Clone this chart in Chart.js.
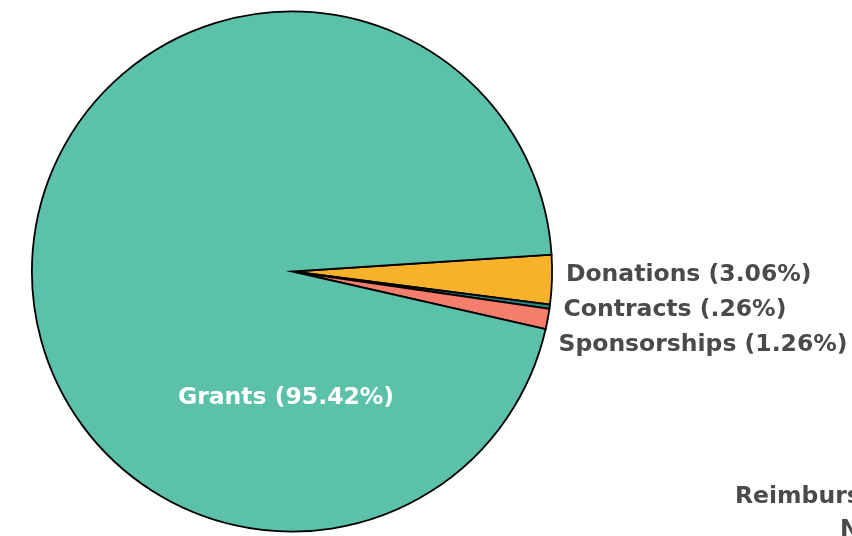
<!DOCTYPE html>
<html>
<head>
<meta charset="utf-8">
<script src="https://cdn.jsdelivr.net/npm/chart.js"></script>
<style>
    html, body { margin: 0; padding: 0; background: #ffffff; }
    #wrap { width: 852px; height: 536px; position: relative; }
</style>
</head>
<body>
<div id="wrap">
    <canvas id="fuentes-chart"></canvas>
</div>

<script>
    // Datos del grafico
    var categorias = ['Donations', 'Contracts', 'Sponsorships', 'Grants'];
    var porcentajes = [3.06, 0.26, 1.26, 95.42];
    var etiquetas = ['Donations (3.06%)', 'Contracts (.26%)', 'Sponsorships (1.26%)', 'Grants (95.42%)'];
    var colores = ['#F8B229', '#1F8A80', '#F47D6B', '#5BC1A9'];
    var notaExtra = ['Reimbursements', 'N/A'];

    var fuente = 'bold 23.5px "DejaVu Sans", sans-serif';

    // Plugin para dibujar las etiquetas
    var etiquetasPlugin = {
        id: 'etiquetas',
        afterDraw: function (chart) {
            var ctx = chart.ctx;
            var arcos = chart.getDatasetMeta(0).data;
            ctx.save();
            ctx.font = fuente;
            ctx.textBaseline = 'middle';

            var ultimaY = -Infinity;
            for (var i = 0; i < 3; i++) {
                var a = arcos[i];
                var medio = (a.startAngle + a.endAngle) / 2;
                var x = a.x + (a.outerRadius + 14) * Math.cos(medio) - (i === 2 ? 3 : 0);
                var y = a.y + a.outerRadius * Math.sin(medio) - 5;
                if (y < ultimaY + 35) y = ultimaY + 35;
                ultimaY = y;
                ctx.fillStyle = '#4a4a4a';
                ctx.textAlign = 'left';
                ctx.fillText(etiquetas[i], x, y);
            }

            // Etiqueta de Grants dentro del circulo
            var g = arcos[3];
            ctx.fillStyle = '#ffffff';
            ctx.textAlign = 'center';
            ctx.fillText(etiquetas[3], g.x - 6, g.y + g.outerRadius * 0.485);

            // Nota cortada en la esquina
            ctx.fillStyle = '#4a4a4a';
            ctx.textAlign = 'left';
            ctx.fillText(notaExtra[0], 735, 497);
            ctx.fillText(notaExtra[1], 840, 530);
            ctx.restore();
        }
    };

    var ctx = document.getElementById('fuentes-chart').getContext('2d');
    var fuentesChart = new Chart(ctx, {
        type: 'pie',
        data: {
            labels: categorias,
            datasets: [{
                data: porcentajes,
                backgroundColor: colores,
                borderColor: '#000000',
                borderWidth: 1.8,
                borderJoinStyle: 'miter'
            }]
        },
        options: {
            responsive: true,
            maintainAspectRatio: false,
            animation: false,
            rotation: 86.3,
            layout: {
                padding: { left: 31, right: 299, top: 10, bottom: 3 }
            },
            plugins: {
                legend: { display: false },
                tooltip: { enabled: false }
            }
        },
        plugins: [etiquetasPlugin]
    });
</script>
</body>
</html>
